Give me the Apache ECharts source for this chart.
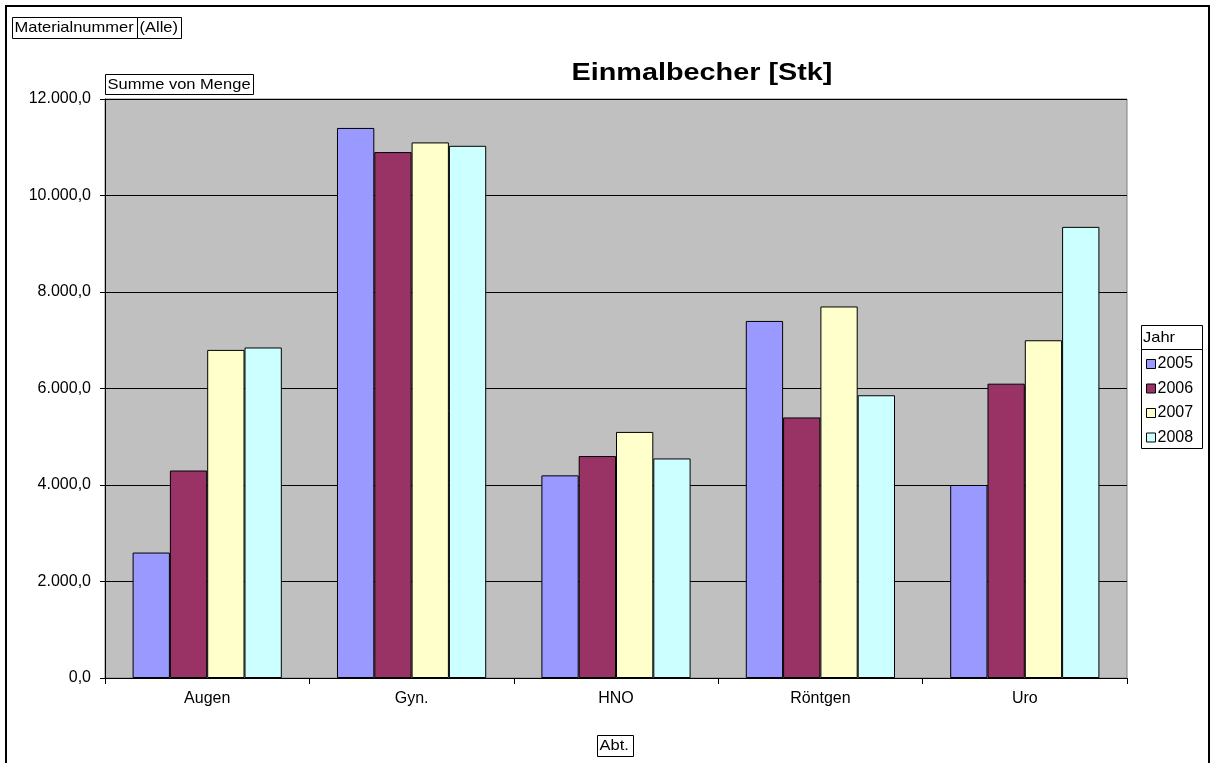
<!DOCTYPE html>
<html>
<head>
<meta charset="utf-8">
<script src="https://cdn.jsdelivr.net/npm/echarts@6/dist/echarts.min.js"></script>
<style>
  html, body { margin: 0; padding: 0; background: #fff; }
  #chart { width: 1213px; height: 763px; }
</style>
</head>
<body>
<div id="chart"></div>
<script>
// Einmalbecher [Stk] – Summe von Menge je Abteilung und Jahr
const categories = ['Augen', 'Gyn.', 'HNO', 'Röntgen', 'Uro'];
const years = ['2005', '2006', '2007', '2008'];
const values2005 = [2600, 11400, 4200, 7400, 4000];
const values2006 = [4300, 10900, 4600, 5400, 6100];
const values2007 = [6800, 11100, 5100, 7700, 7000];
const values2008 = [6850, 11030, 4550, 5860, 9350];
const yearColors = ['#9999FF', '#993366', '#FFFFCC', '#CCFFFF'];

const FONT = 'Arial, "Liberation Sans", sans-serif';

// German number format: 12.000,0
function fmtDe(v) {
  const s = Math.round(v).toString().replace(/\B(?=(\d{3})+(?!\d))/g, '.');
  return s + ',0';
}

const seriesValues = [values2005, values2006, values2007, values2008];
const series = years.map((y, i) => ({
  name: y,
  type: 'bar',
  data: seriesValues[i],
  barGap: '0%',
  barCategoryGap: '27%',
  itemStyle: { color: yearColors[i], borderColor: '#000', borderWidth: 1 },
  emphasis: { disabled: true }
}));

// small boxed field-button labels
function fieldBox(x, y, w, h, text) {
  return [
    { type: 'rect', shape: { x: x, y: y, width: w, height: h },
      style: { fill: '#fff', stroke: '#000', lineWidth: 1 }, z: 10 },
    { type: 'text', x: x + 2, y: y + h / 2, scaleX: 1.1, z: 11,
      style: { x: 0, y: 0, text: text, font: '15px ' + FONT, fill: '#000',
               textAlign: 'left', textVerticalAlign: 'middle' } }
  ];
}

const chart = echarts.init(document.getElementById('chart'), null, { renderer: 'canvas' });
chart.setOption({
  animation: false,
  backgroundColor: '#fff',
  grid: {
    left: 105, top: 99, right: 86, bottom: 85,
    show: true, backgroundColor: '#C0C0C0', borderColor: '#808080', borderWidth: 1
  },
  legend: {
    orient: 'vertical',
    left: 1146,
    top: 356,
    padding: 0,
    itemWidth: 9,
    itemHeight: 9,
    itemGap: 8.5,
    icon: 'rect',
    itemStyle: { borderColor: '#000', borderWidth: 1 },
    textStyle: { fontFamily: FONT, fontSize: 16, color: '#000', padding: [0, 0, 0, -3] },
    data: years
  },
  xAxis: {
    type: 'category',
    data: categories,
    axisLine: { lineStyle: { color: '#000', width: 1 } },
    axisTick: { show: true, length: 6, lineStyle: { color: '#000' } },
    axisLabel: { color: '#000', fontFamily: FONT, fontSize: 16, margin: 13 }
  },
  yAxis: {
    type: 'value',
    min: 0, max: 12000, interval: 2000,
    axisLine: { show: true, lineStyle: { color: '#000', width: 1 } },
    axisTick: { show: true, length: 5, lineStyle: { color: '#000' } },
    axisLabel: { color: '#000', fontFamily: FONT, fontSize: 16, margin: 14, formatter: fmtDe },
    splitLine: { show: true, lineStyle: { color: '#000', width: 1 } }
  },
  series: series,
  graphic: [
    // outer chart frame
    { type: 'rect', shape: { x: 6, y: 6, width: 1203, height: 800 },
      style: { fill: 'none', stroke: '#000', lineWidth: 2 }, z: 20 },
    // chart title
    { type: 'text', x: 702, y: 73, scaleX: 1.2, z: 11,
      style: { x: 0, y: 0, text: 'Einmalbecher [Stk]', font: 'bold 24px ' + FONT,
               fill: '#000', textAlign: 'center', textVerticalAlign: 'middle' } },
    ...fieldBox(12.5, 17.5, 125, 21, 'Materialnummer'),
    ...fieldBox(137.5, 17.5, 44, 21, '(Alle)'),
    ...fieldBox(105.5, 74.5, 148, 20, 'Summe von Menge'),
    ...fieldBox(597.5, 735.5, 36, 21, 'Abt.'),
    // legend frame with header
    { type: 'rect', shape: { x: 1141.5, y: 325.5, width: 61, height: 123 },
      style: { fill: '#fff', stroke: '#000', lineWidth: 1 }, z: 0 },
    { type: 'line', shape: { x1: 1141.5, y1: 349.5, x2: 1202.5, y2: 349.5 },
      style: { stroke: '#000', lineWidth: 1 }, z: 1 },
    { type: 'text', x: 1143, y: 337.5, scaleX: 1.1, z: 11,
      style: { x: 0, y: 0, text: 'Jahr', font: '15px ' + FONT, fill: '#000',
               textAlign: 'left', textVerticalAlign: 'middle' } }
  ]
});
</script>
</body>
</html>
